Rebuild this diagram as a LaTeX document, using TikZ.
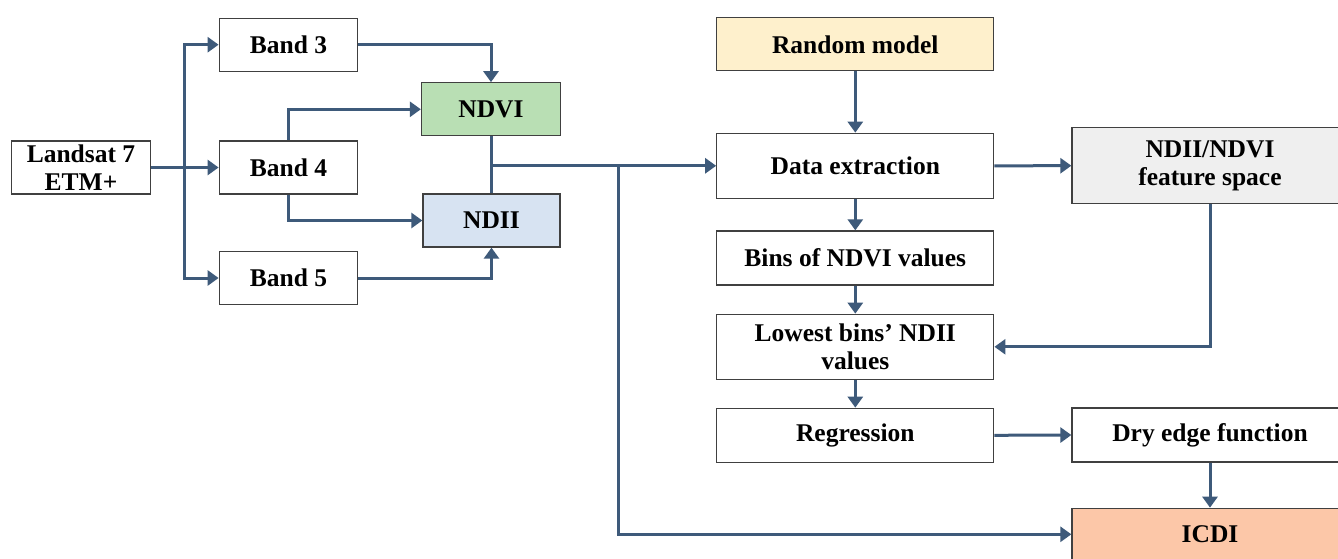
\documentclass[tikz,border=0pt]{standalone}
\usepackage{fontspec}
\setmainfont{Liberation Serif}
\usetikzlibrary{arrows.meta}
\definecolor{ln}{HTML}{3E5A7A}
\definecolor{bd}{HTML}{404040}
\definecolor{cgreen}{HTML}{B9DFB4}
\definecolor{cblue}{HTML}{D7E3F2}
\definecolor{cyellow}{HTML}{FEF0CC}
\definecolor{cgray}{HTML}{EFEFEF}
\definecolor{corange}{HTML}{FCC7A8}
\tikzset{
  box/.style={draw=bd, line width=1.3pt, fill=white, inner sep=0pt, align=center,
    font=\fontsize{25.5}{27.5}\selectfont\bfseries},
  conn/.style={draw=ln, line width=3pt},
  arr/.style={conn, -{Triangle[length=11pt,width=15pt]}},
}
\begin{document}
\begin{tikzpicture}[x=1pt,y=-1pt]
\useasboundingbox (0,0) rectangle (1338,559);
\clip (0,0) rectangle (1338,559);
\fill[white] (0,0) rectangle (1338,559);
% left part
\node[box, minimum width=139pt, minimum height=53pt] (landsat) at (81,167.5) {Landsat 7\\ETM+};
\node[box, minimum width=138.5pt, minimum height=53pt] (b3) at (288.5,44.7) {Band 3};
\node[box, minimum width=138.5pt, minimum height=53pt] (b4) at (288.5,167.5) {Band 4};
\node[box, minimum width=138.5pt, minimum height=53pt] (b5) at (288.5,278) {Band 5};
\node[box, fill=cgreen, minimum width=139pt, minimum height=53pt] (ndvi) at (491,109.3) {NDVI};
\node[box, fill=cblue, minimum width=137pt, minimum height=53pt] (ndii) at (491.5,220.5) {NDII};
% middle column
\node[box, fill=cyellow, minimum width=277pt, minimum height=53pt] (rand) at (855.3,44.3) {Random model};
\node[box, minimum width=277pt, minimum height=65pt] (data) at (855.3,165.8) {Data extraction};
\node[box, minimum width=277pt, minimum height=54pt] (bins) at (855.3,258) {Bins of NDVI values};
\node[box, minimum width=277pt, minimum height=65pt] (low) at (855.3,346.8) {Lowest bins’ NDII\\values};
\node[box, minimum width=277pt, minimum height=54pt] (regr) at (855.3,435.3) {Regression};
% right column
\node[box, fill=cgray, minimum width=276pt, minimum height=76pt] (fs) at (1210,165.7) {NDII/NDVI\\feature space};
\node[box, minimum width=276pt, minimum height=54pt] (dry) at (1210,435) {Dry edge function};
\node[box, fill=corange, minimum width=276pt, minimum height=52pt] (icdi) at (1210,534.3) {ICDI};
% connectors left
\coordinate (trunk) at (184.8,167.5);
\draw[arr] (landsat.east) -- (b4.west);
\draw[arr] (trunk) |- (b3.west);
\draw[arr] (trunk) |- (b5.west);
\draw[arr] (b4.north) |- (ndvi.west);
\draw[arr] (b4.south) |- (ndii.west);
\draw[arr] (b3.east) -| (ndvi.north);
\draw[arr] (b5.east) -| (ndii.south);
\draw[conn] (ndvi.south) -- (ndvi.south |- ndii.north);
\coordinate (join) at (491,165.8);
\coordinate (branch) at (618,165.8);
\draw[arr] (join) -- (data.west);
\draw[arr] (branch) |- (icdi.west);
% connectors right
\draw[arr] (rand.south) -- (data.north);
\draw[arr] (data.south) -- (bins.north);
\draw[arr] (bins.south) -- (low.north);
\draw[arr] (low.south) -- (regr.north);
\draw[arr] (data.east) -- (fs.west);
\draw[arr] (fs.south) |- (low.east);
\draw[arr] (regr.east) -- (dry.west);
\draw[arr] (dry.south) -- (icdi.north);
\end{tikzpicture}
\end{document}
